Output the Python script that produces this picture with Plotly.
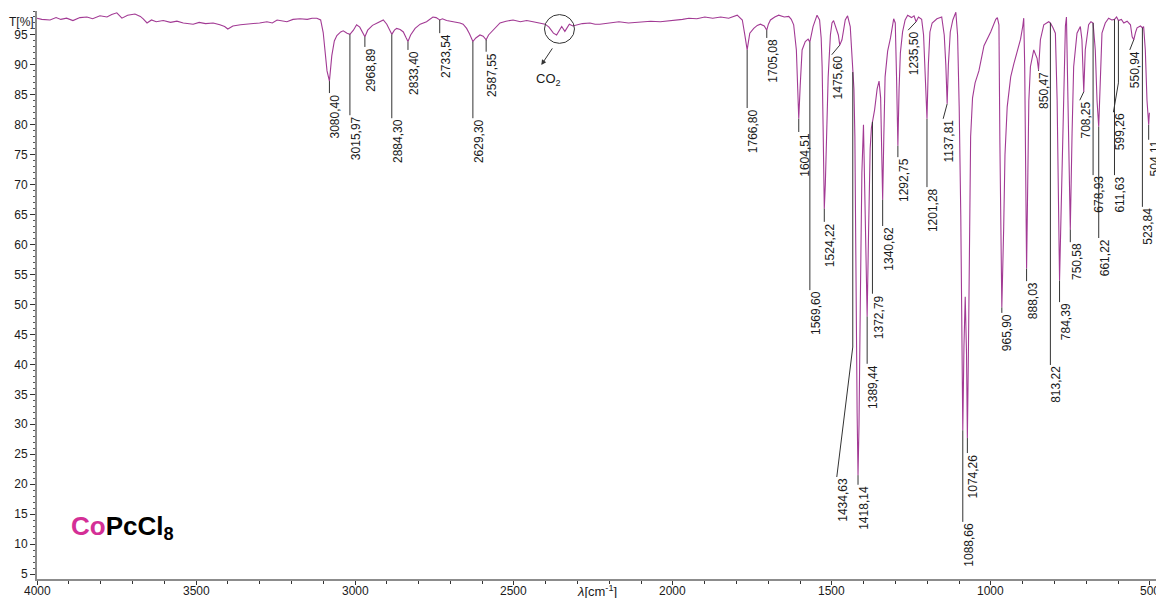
import numpy as np
import plotly.graph_objects as go

# ---------------- data ----------------
wavenumber = [
    4000, 3985, 3959, 3940, 3925, 3907, 3887, 3865, 3843, 3825, 3802, 3780, 3765, 3749, 3733, 3715,
    3692, 3675, 3666, 3654, 3640, 3625, 3603, 3580, 3560, 3540, 3509, 3490, 3470, 3446, 3425, 3410,
    3400, 3384, 3360, 3330, 3300, 3277, 3260, 3245, 3230, 3214, 3195, 3173, 3150, 3135, 3120, 3108,
    3100, 3094, 3088, 3080.40, 3073, 3065, 3057, 3045, 3037, 3025, 3015.97, 3005, 2995, 2985, 2975,
    2968.89, 2960, 2945, 2930, 2921, 2911, 2900, 2892, 2884.30, 2876, 2869, 2858, 2848, 2840, 2833.40,
    2825, 2811, 2795, 2775, 2755, 2745, 2733.54, 2725, 2712, 2690, 2670, 2660, 2649, 2640, 2629.30,
    2620, 2607, 2597, 2587.55, 2580, 2570, 2557, 2544, 2525, 2503, 2480, 2460, 2440, 2420, 2402, 2390,
    2376, 2366, 2358, 2350, 2340, 2326, 2315, 2303, 2285, 2261, 2245, 2230, 2200, 2170, 2140, 2100,
    2070, 2040, 2000, 1970, 1950, 1925, 1900, 1875, 1850, 1825, 1798, 1782, 1775, 1766.80, 1758.5,
    1746, 1735, 1725, 1713, 1705.08, 1700, 1693.5, 1680, 1667.5, 1650, 1636, 1628, 1620.5, 1612, 1608,
    1604.51, 1600, 1597, 1594, 1584, 1575, 1569.60, 1565, 1559.6, 1547, 1539, 1534, 1531, 1528,
    1524.22, 1521, 1518, 1512, 1505, 1500, 1495, 1486.5, 1480, 1475.60, 1468.6, 1458.3, 1451, 1442.6,
    1437, 1434.63, 1431, 1428, 1425, 1421, 1418.14, 1415, 1411, 1406, 1401, 1397, 1393, 1389.44, 1385,
    1380, 1376, 1372.79, 1366, 1358, 1352, 1347, 1343, 1340.62, 1337, 1333, 1325, 1316, 1306, 1301,
    1297, 1292.75, 1289, 1285, 1278, 1270, 1262, 1250, 1242, 1235.50, 1228, 1218, 1212, 1207, 1201.28,
    1197, 1192, 1185, 1170, 1155, 1147, 1142, 1137.81, 1134, 1128, 1120, 1110.5, 1105, 1100, 1095,
    1091, 1088.66, 1085, 1081, 1077, 1074.26, 1071, 1069, 1064, 1058, 1050, 1038, 1022, 1001, 985,
    980, 975, 972, 969, 965.90, 960, 956, 949, 938, 928, 917, 907, 900, 897, 894, 891, 888.03, 884,
    881, 876, 865.5, 855, 850.47, 844.6, 834, 818.5, 813.22, 805, 797.5, 792, 787, 784.39, 781, 776.4,
    771, 766, 762.7, 759, 755, 750.58, 745, 740, 729.5, 719, 714, 708.25, 703.5, 693, 685.6, 678.93,
    672, 666.6, 661.22, 656.2, 651, 640.6, 630, 620, 611.63, 605, 599.26, 590, 582.3, 572, 561.4, 556,
    550.94, 545, 540.6, 530, 523.84, 520, 514.7, 509.4, 504.11, 502,
]
transmittance = [
    97.8, 97.6, 97.5, 97.9, 97.6, 97.8, 97.4, 97.9, 98.0, 97.7, 98.2, 98.0, 98.4, 98.7, 97.8, 98.3,
    98.5, 98.1, 97.7, 97.0, 97.5, 97.2, 97.4, 97.1, 97.3, 97.0, 96.8, 97.1, 96.9, 97.0, 96.7, 96.4,
    96.0, 96.5, 96.7, 96.8, 97.0, 97.2, 97.0, 97.5, 97.4, 97.2, 97.6, 97.7, 97.6, 97.8, 97.8, 97.5,
    95.4, 91.5, 89.0, 87.3, 91.5, 94.0, 94.9, 95.5, 95.7, 95.3, 95.1, 95.8, 96.7, 96.3, 95.2,
    94.7, 95.8, 96.6, 97.0, 97.2, 97.5, 96.8, 96.0, 95.1, 95.8, 96.1, 95.9, 95.5, 94.6, 93.9,
    95.0, 96.1, 96.8, 97.2, 98.0, 97.9, 97.5, 97.7, 97.4, 97.2, 97.0, 96.8, 96.1, 95.2, 93.9,
    94.5, 95.0, 94.8, 94.2, 95.0, 95.6, 96.3, 97.0, 97.3, 97.5, 97.2, 97.4, 97.2, 97.0, 96.8, 96.3,
    95.3, 95.0, 95.7, 96.4, 95.6, 96.8, 96.5, 96.7, 96.9, 97.0, 96.8, 96.8, 97.0, 97.2, 97.0, 97.2,
    97.3, 97.2, 97.4, 97.6, 97.8, 97.7, 98.0, 97.8, 98.0, 97.8, 98.3, 97.5, 95.3, 92.5, 95.3,
    96.1, 96.6, 96.8, 96.5, 95.8, 96.8, 97.5, 98.0, 98.3, 98.0, 98.1, 97.6, 96.7, 92.5, 86.0,
    81.0, 86.5, 91.0, 92.5, 93.9, 94.3, 93.8, 95.0, 96.4, 98.3, 97.5, 94.5, 89.7, 80.0,
    66.0, 70.0, 78.0, 88.0, 95.0, 97.0, 97.4, 96.1, 95.0, 93.3, 94.2, 97.5, 98.2, 96.4,
    90.8, 88.8, 86.0, 78.0, 55.0, 32.0, 21.5, 30.0, 50.0, 72.0, 80.0, 70.0, 55.0, 48.0, 62.0,
    76.0, 79.5, 80.5, 82.5, 86.0, 87.3, 84.5, 74.0, 67.5, 78.0, 88.0, 92.3, 94.5, 97.7, 97.0,
    88.0, 76.5, 86.0, 92.0, 95.5, 97.5, 98.3, 97.9, 98.2, 97.2, 98.0, 97.6, 95.0, 89.0, 81.0,
    90.0, 95.5, 97.0, 97.7, 98.0, 95.0, 90.0, 83.5, 90.0, 95.5, 97.5, 98.8, 94.9, 83.0, 65.0,
    45.0, 29.0, 43.0, 51.3, 42.0, 27.7, 42.0, 55.0, 78.0, 84.5, 87.0, 89.0, 93.2, 95.5, 97.6,
    97.9, 96.7, 77.0, 60.0, 49.5, 63.0, 75.0, 83.0, 88.0, 90.2, 92.5, 94.3, 96.5, 97.8, 90.0, 72.0, 56.0, 72.0,
    84.0, 89.7, 92.5, 91.1, 89.2, 94.2, 96.7, 97.2, 97.0, 96.2, 95.3, 84.1, 62.0, 54.0, 62.0, 73.0,
    89.7, 96.5, 98.0, 88.0, 72.0, 62.5, 78.6, 89.7, 95.3, 96.4, 94.2, 85.5, 92.5, 96.7, 97.2, 97.0,
    92.5, 84.1, 79.7, 87.0, 95.3, 97.0, 97.8, 97.5, 97.6, 98.0, 97.4, 97.6, 97.0, 97.3, 96.7, 94.7,
    94.2, 95.5, 96.2, 96.5, 96.2, 96.4, 92.5, 84.1, 80.0, 82.0,
]

peak_labels = [
    "3080,40", "3015,97", "2968,89", "2884,30", "2833,40", "2733,54", "2629,30", "2587,55",
    "1766,80", "1705,08", "1604,51", "1569,60", "1524,22", "1475,60", "1434,63", "1418,14",
    "1389,44", "1372,79", "1340,62", "1292,75", "1235,50", "1201,28", "1137,81", "1088,66",
    "1074,26", "965,90", "888,03", "850,47", "813,22", "784,39", "750,58", "708,25", "678,93",
    "661,22", "611,63", "599,26", "550,94", "523,84", "504,11",
]
peak_wn = [float(s.replace(",", ".")) for s in peak_labels]

x_tick_values = [4000, 3500, 3000, 2500, 2000, 1500, 1000, 500]
y_tick_values = list(range(5, 100, 5))

# ---------------- label placement (positions, not data) ----------------
label_top = [
    85.3, 81.6, 93.0, 81.1, 92.5, 95.3, 81.1, 92.2,
    82.8, 94.5, 78.8, 52.4, 63.8, 91.7, 21.2, 19.9,
    40.1, 51.8, 63.1, 74.6, 95.8, 69.6, 81.0, 13.7,
    25.2, 48.6, 53.9, 89.0, 39.9, 50.4, 60.4, 84.1, 71.6,
    61.1, 71.6, 82.1, 92.5, 66.3, 77.5,
]
label_bend = {
    "1434,63": (42.9, -16),
    "599,26": (87.0, -5),
    "1475,60": (None, -8),
    "1235,50": (None, -8),
    "1137,81": (None, -4),
    "708,25": (None, -4),
    "550,94": (None, -4),
}

# The page body has an 8 px margin, so the figure is made 8 px smaller and
# its plot area moved 8 px up/left to land where the reference has it.
X_RANGE = [4000, 468.5]
Y_RANGE = [4.17, 99.0]
W, H = 1156, 590
ML, MR, MT, MB = 29, 4, 3, 19
px_per_wn = (W - ML - MR) / (X_RANGE[0] - X_RANGE[1])

LINE_COL = "#a23a94"
TXT_COL = "#1a1a1a"
FONT = "Liberation Sans, Arial, sans-serif"

wn_asc = np.array(wavenumber[::-1])
t_asc = np.array(transmittance[::-1])

fig = go.Figure()
fig.add_trace(go.Scatter(x=wavenumber, y=transmittance, mode="lines",
                         line=dict(color=LINE_COL, width=1.1),
                         hoverinfo="skip", showlegend=False))

shapes = []
annotations = []
for lab, w, top in zip(peak_labels, peak_wn, label_top):
    t_peak = float(np.interp(w, wn_asc, t_asc))
    bend, dx = label_bend.get(lab, (top, 0))
    w_text = w - dx / px_per_wn
    if bend is None:
        shapes.append(dict(type="line", x0=w, y0=t_peak, x1=w_text, y1=top,
                           line=dict(color="#333333", width=1)))
    else:
        shapes.append(dict(type="line", x0=w, y0=t_peak, x1=w, y1=bend,
                           line=dict(color="#333333", width=1)))
        if dx != 0:
            shapes.append(dict(type="line", x0=w, y0=bend, x1=w_text, y1=top,
                               line=dict(color="#333333", width=1)))
    annotations.append(dict(x=w_text, y=top, xref="x", yref="y", text=lab,
                            showarrow=False, textangle=-90, xanchor="left",
                            yanchor="top", borderpad=0, borderwidth=0,
                            xshift=-1, yshift=-1,
                            font=dict(size=12, color=TXT_COL, family=FONT)))

# x tick labels
for v in x_tick_values:
    annotations.append(dict(x=v, y=0, xref="x", yref="paper", text=str(v),
                            showarrow=False, yanchor="middle", yshift=-12,
                            font=dict(size=12, color=TXT_COL, family=FONT)))

# CO2 marker
co2_w, co2_t = 2357, 96.0
shapes.append(dict(type="circle", xref="x", yref="y",
                   x0=co2_w + 15 / px_per_wn, x1=co2_w - 15 / px_per_wn,
                   y0=co2_t - 2.4, y1=co2_t + 2.4,
                   line=dict(color="#333333", width=1)))
annotations.append(dict(x=2414, y=90.0, xref="x", yref="y", text="",
                        showarrow=True, ax=12, ay=-18, arrowhead=2,
                        arrowsize=1, arrowwidth=1, arrowcolor="#333333"))
annotations.append(dict(x=2393, y=87.5, xref="x", yref="y",
                        text="CO<sub>2</sub>", showarrow=False,
                        font=dict(size=13, color=TXT_COL, family=FONT)))

# axis titles
annotations.append(dict(x=0, y=97.2, xref="paper", yref="y", text="T[%]",
                        showarrow=False, xanchor="right", xshift=-1,
                        font=dict(size=12, color=TXT_COL, family=FONT)))
annotations.append(dict(x=2239, y=0, xref="x", yref="paper",
                        text="<i>λ</i>[cm<sup>-1</sup>]", showarrow=False,
                        yanchor="middle", yshift=-12,
                        font=dict(size=13, color=TXT_COL, family=FONT)))
# compound name
annotations.append(dict(x=3899, y=12.7, xref="x", yref="y",
                        text="<b><span style='color:#d42f96'>Co</span>PcCl<sub>8</sub></b>",
                        showarrow=False, xanchor="left", yanchor="middle",
                        font=dict(size=26, color="#000000", family=FONT)))

fig.update_layout(
    width=W, height=H,
    margin=dict(l=ML, r=MR, t=MT, b=MB, autoexpand=False),
    paper_bgcolor="white", plot_bgcolor="white",
    shapes=shapes, annotations=annotations,
    showlegend=False,
    xaxis=dict(range=X_RANGE, showgrid=False, zeroline=False, automargin=False,
               showline=True, linecolor="#8c8c8c", linewidth=2,
               ticks="outside", ticklen=4, tickcolor="#333333",
               tickvals=x_tick_values, showticklabels=False,
               minor=dict(dtick=100, ticklen=3, ticks="outside", tickcolor="#333333"),
               ),
    yaxis=dict(range=Y_RANGE, showgrid=False, zeroline=False, automargin=False,
               showline=True, linecolor="#8c8c8c", linewidth=2,
               ticks="outside", ticklen=5, tickcolor="#333333",
               tickvals=y_tick_values,
               minor=dict(dtick=1, ticklen=2, ticks="outside", tickcolor="#555555"),
               tickfont=dict(size=12, color=TXT_COL, family=FONT)),
)

fig.write_html("out.html")
